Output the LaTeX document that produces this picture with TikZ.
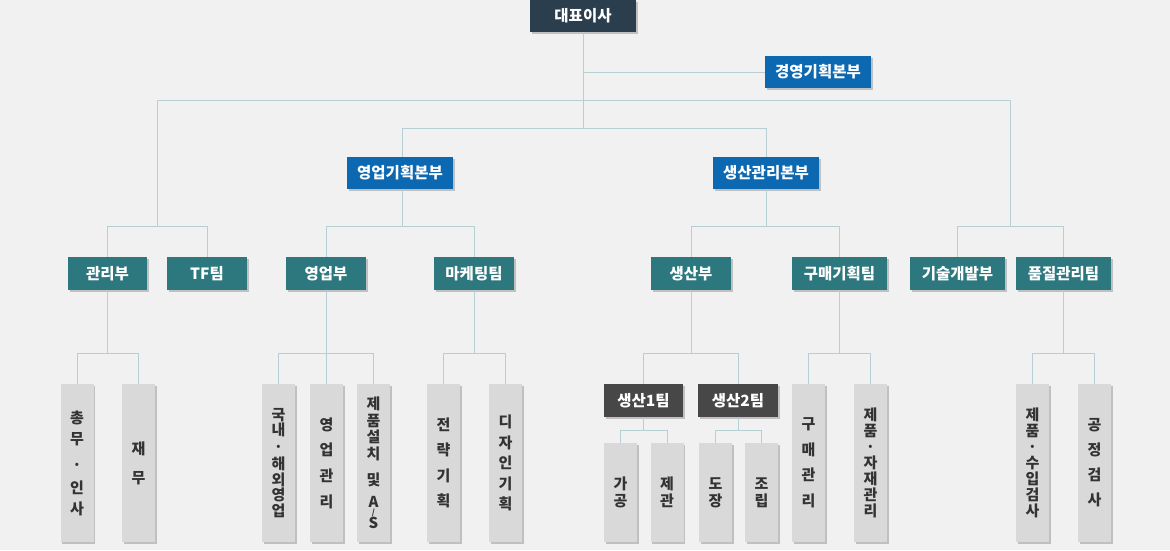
\documentclass[tikz,border=0pt]{standalone}
\usepackage{fontspec}
\setmainfont{Noto Sans CJK KR}
\usetikzlibrary{shadows}
\definecolor{bgC}{HTML}{F1F1F1}
\definecolor{ceoC}{HTML}{2B3E4D}
\definecolor{blueC}{HTML}{0B68B1}
\definecolor{tealC}{HTML}{2D787E}
\definecolor{darkC}{HTML}{474747}
\definecolor{greyC}{HTML}{D9D9D9}
\definecolor{lineC}{HTML}{B6CFD2}
\definecolor{txtC}{HTML}{333333}
\tikzset{
  shad/.style={drop shadow={shadow xshift=1.5pt,shadow yshift=-1.5pt,opacity=0.2,fill=black}},
  box/.style={shad, inner sep=0pt, text=white, font=\fontsize{15.5}{18}\selectfont\bfseries},
  ceobox/.style={box, fill=ceoC, minimum width=106pt, minimum height=32pt},
  hqbox/.style={box, fill=blueC, minimum width=106pt, minimum height=32pt},
  deptbox/.style={box, fill=tealC, minimum width=80pt, minimum height=33pt},
  teambox/.style={box, fill=darkC, minimum width=80pt, minimum height=33pt},
  vlabel/.style={shad, fill=greyC, text=txtC, inner sep=0pt, minimum width=33pt,
    minimum height=158pt, align=center, font=\fontsize{15}{#1}\selectfont\bfseries},
  slabel/.style={vlabel=#1, minimum height=99pt},
  conn/.style={draw=lineC, line width=1pt}
}
\begin{document}
\begin{tikzpicture}[x=1pt,y=-1pt]
\fill[bgC] (0,0) rectangle (1170,550);
\useasboundingbox (0,0) rectangle (1170,550);

% top level
\node[ceobox] (ceo) at (583,16) {대표이사};
\node[hqbox] (mgmt) at (818,72) {경영기획본부};
\node[hqbox] (saleshq) at (400,173) {영업기획본부};
\node[hqbox] (prodhq) at (766,173) {생산관리본부};

% departments
\node[deptbox, minimum width=79pt] (gwanri) at (107.5,273.5) {관리부};
\node[deptbox] (tf) at (207,273.5) {TF팀};
\node[deptbox] (sales) at (326,273.5) {영업부};
\node[deptbox] (mkt) at (474,273.5) {마케팅팀};
\node[deptbox] (prod) at (691,273.5) {생산부};
\node[deptbox, minimum width=95pt] (purch) at (839.5,273.5) {구매기획팀};
\node[deptbox, minimum width=95pt] (tech) at (957.5,273.5) {기술개발부};
\node[deptbox, minimum width=95pt] (qc) at (1063.5,273.5) {품질관리팀};

% teams
\node[teambox, minimum width=79pt] (team1) at (643.5,400.5) {생산1팀};
\node[teambox] (team2) at (738,400.5) {생산2팀};

% vertical labels
\node[vlabel=21] (v1) at (77,463) {총\\무\\[5pt]·\\[2pt]인\\사};
\node[vlabel=29] (v2) at (138.5,463) {재\\무};
\node[vlabel=15.5] (v3) at (278.5,463) {국\\내\\[1pt]·\\[2pt]해\\외\\영\\업};
\node[vlabel=25.7] (v4) at (326.5,463) {영\\업\\관\\리};
\node[vlabel=16.5] (v5) at (373.5,463) {제\\품\\설\\치\\[9.5pt]및\\[5.5pt]A\\[-8pt]{\fontsize{8}{8}\selectfont /}\\[-3.5pt]S};
\node[vlabel=25.5] (v6) at (443.5,463) {전\\략\\기\\획};
\node[vlabel=20.5] (v7) at (505.5,463) {디\\자\\인\\기\\획};
\node[vlabel=25.5] (v8) at (808.5,463) {구\\매\\관\\리};
\node[vlabel=16] (v9) at (870.5,463) {제\\품\\·\\자\\재\\관\\리};
\node[vlabel=16] (v10) at (1032.5,463) {제\\품\\·\\수\\입\\검\\사};
\node[vlabel=25] (v11) at (1094.5,463) {공\\정\\검\\사};
\node[slabel=17] (s1) at (620.5,492.5) {가\\공};
\node[slabel=17] (s2) at (667,492.5) {제\\관};
\node[slabel=17] (s3) at (715.5,492.5) {도\\장};
\node[slabel=17] (s4) at (761.5,492.5) {조\\립};

% connectors
\coordinate (lb) at (157,100);
\coordinate (rb) at (1010,100);
\draw[conn] (ceo.south) -- (ceo.south |- 0,128);
\draw[conn] (ceo.south |- mgmt.west) -- (mgmt.west);
\draw[conn] (lb) -- (rb);
\draw[conn] ([xshift=2.5pt]saleshq.north) |- (prodhq.north |- 0,128) -- (prodhq.north);
\draw[conn] (lb) -- (lb |- 0,226);
\draw[conn] (gwanri.north) |- (tf.north |- 0,226) -- (tf.north);
\draw[conn] (rb) -- (rb |- 0,226);
\draw[conn] (tech.north) |- (qc.north |- 0,226) -- (qc.north);
\draw[conn] ([xshift=2.5pt]saleshq.south) -- ([xshift=2.5pt]saleshq.south |- 0,226);
\draw[conn] (sales.north) |- (mkt.north |- 0,226) -- (mkt.north);
\draw[conn] (prodhq.south) -- (prodhq.south |- 0,226);
\draw[conn] (prod.north) |- (purch.north |- 0,226) -- (purch.north);

\draw[conn] (gwanri.south) -- (gwanri.south |- 0,353);
\draw[conn] (v1.north) |- (v2.north |- 0,353) -- (v2.north);
\draw[conn] (sales.south) -- (sales.south |- v4.north);
\draw[conn] (v3.north) |- (v5.north |- 0,353) -- (v5.north);
\draw[conn] (mkt.south) -- (mkt.south |- 0,353);
\draw[conn] (v6.north) |- (v7.north |- 0,353) -- (v7.north);
\draw[conn] (prod.south) -- (prod.south |- 0,353);
\draw[conn] (team1.north) |- (team2.north |- 0,353) -- (team2.north);
\draw[conn] (team1.south) -- (team1.south |- 0,430);
\draw[conn] (s1.north) |- (s2.north |- 0,430) -- (s2.north);
\draw[conn] (team2.south) -- (team2.south |- 0,430);
\draw[conn] (s3.north) |- (s4.north |- 0,430) -- (s4.north);
\draw[conn] (purch.south) -- (purch.south |- 0,353);
\draw[conn] (v8.north) |- (v9.north |- 0,353) -- (v9.north);
\draw[conn] (qc.south) -- (qc.south |- 0,353);
\draw[conn] (v10.north) |- (v11.north |- 0,353) -- (v11.north);
\end{tikzpicture}
\end{document}
